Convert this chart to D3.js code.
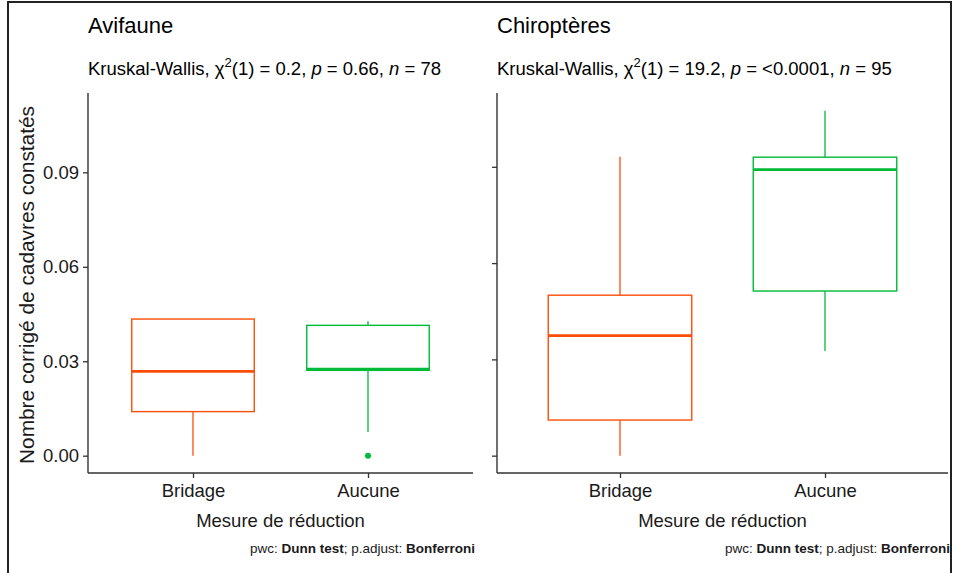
<!DOCTYPE html>
<html>
<head>
<meta charset="utf-8">
<script src="https://cdn.jsdelivr.net/npm/d3@7"></script>
<style>
body { margin: 0; background: #fff; }
text { font-family: "Liberation Sans", Arial, sans-serif; }
</style>
</head>
<body>
<div id="chart"></div>
<script>
var width = 955,
    height = 573,
    orange = "#FC4E07",
    green = "#00BA38";

// categories
var groups = ["Bridage", "Aucune"];
var tickValues = [0, 0.03, 0.06, 0.09];

// Avifaune box stats
var aviLow = [0.000, 0.0075];
var aviQ1 = [0.0140, 0.0271];
var aviMedian = [0.0268, 0.0275];
var aviQ3 = [0.0434, 0.0414];
var aviHigh = [0.0434, 0.0427];
var aviOutliers = [[], [0.000]];

// Chiropteres box stats
var chiLow = [0.000, 0.0326];
var chiQ1 = [0.0111, 0.0513];
var chiMedian = [0.0374, 0.0891];
var chiQ3 = [0.0500, 0.0930];
var chiHigh = [0.0931, 0.1075];
var chiOutliers = [[], []];

var svg = d3.select("#chart")
    .append("svg")
    .attr("width", width)
    .attr("height", height);

svg.append("rect")
    .attr("width", width)
    .attr("height", height)
    .attr("fill", "#fff");

// outer frame
svg.append("rect")
    .attr("x", 8)
    .attr("y", 2)
    .attr("width", 943)
    .attr("height", 620)
    .attr("fill", "none")
    .attr("stroke", "#222")
    .attr("stroke-width", 2);

function makeTable(low, q1, med, q3, high, outl) {
    return groups.map(function (g, i) {
        return { group: g, low: low[i], q1: q1[i], med: med[i], q3: q3[i], high: high[i], out: outl[i] };
    });
}

var panels = [
    { title: "Avifaune", chi: "0.2", p: "0.66", n: "78",
      left: 88, right: 473, domain: [-0.0055, 0.1152], labels: true,
      data: makeTable(aviLow, aviQ1, aviMedian, aviQ3, aviHigh, aviOutliers) },
    { title: "Chiroptères", chi: "19.2", p: "<0.0001", n: "95",
      left: 497, right: 948, domain: [-0.0054, 0.1130], labels: false,
      data: makeTable(chiLow, chiQ1, chiMedian, chiQ3, chiHigh, chiOutliers) }
];

var plotTop = 93, plotBottom = 473;

panels.forEach(function (p) {
    var x = d3.scalePoint().domain(groups).range([p.left, p.right]).padding(0.6);
    var y = d3.scaleLinear().domain(p.domain).range([plotBottom, plotTop]);
    var color = d3.scaleOrdinal().domain(groups).range([orange, green]);
    var bw = x.step() * 0.7;

    var g = svg.append("g");

    // title + subtitle
    g.append("text")
        .attr("x", p.left)
        .attr("y", 33)
        .style("font-size", "22px")
        .attr("fill", "#000")
        .text(p.title);

    var sub = g.append("text")
        .attr("x", p.left)
        .attr("y", 75)
        .style("font-size", "18.5px")
        .attr("fill", "#000");
    sub.append("tspan").text("Kruskal-Wallis, ");
    sub.append("tspan").text("χ");
    sub.append("tspan").attr("dy", -8).style("font-size", "13px").text("2");
    sub.append("tspan").attr("dy", 8).text("(1) = " + p.chi + ", ");
    sub.append("tspan").style("font-style", "italic").text("p");
    sub.append("tspan").text(" = " + p.p + ", ");
    sub.append("tspan").style("font-style", "italic").text("n");
    sub.append("tspan").text(" = " + p.n);

    // whiskers
    g.selectAll("line.whisk-hi")
        .data(p.data)
        .enter()
        .append("line")
        .attr("x1", function (d) { return x(d.group); })
        .attr("x2", function (d) { return x(d.group); })
        .attr("y1", function (d) { return y(d.q3); })
        .attr("y2", function (d) { return y(d.high); })
        .attr("stroke", function (d) { return color(d.group); })
        .attr("stroke-width", 1.3);

    g.selectAll("line.whisk-lo")
        .data(p.data)
        .enter()
        .append("line")
        .attr("x1", function (d) { return x(d.group); })
        .attr("x2", function (d) { return x(d.group); })
        .attr("y1", function (d) { return y(d.q1); })
        .attr("y2", function (d) { return y(d.low); })
        .attr("stroke", function (d) { return color(d.group); })
        .attr("stroke-width", 1.3);

    // boxes
    g.selectAll("rect.box")
        .data(p.data)
        .enter()
        .append("rect")
        .attr("x", function (d) { return x(d.group) - bw / 2; })
        .attr("y", function (d) { return y(d.q3); })
        .attr("width", bw)
        .attr("height", function (d) { return y(d.q1) - y(d.q3); })
        .attr("fill", "#fff")
        .attr("stroke", function (d) { return color(d.group); })
        .attr("stroke-width", 1.4);

    // medians
    g.selectAll("line.median")
        .data(p.data)
        .enter()
        .append("line")
        .attr("x1", function (d) { return x(d.group) - bw / 2; })
        .attr("x2", function (d) { return x(d.group) + bw / 2; })
        .attr("y1", function (d) { return y(d.med); })
        .attr("y2", function (d) { return y(d.med); })
        .attr("stroke", function (d) { return color(d.group); })
        .attr("stroke-width", 2.8);

    // outliers
    p.data.forEach(function (d) {
        g.selectAll(null)
            .data(d.out)
            .enter()
            .append("circle")
            .attr("cx", x(d.group))
            .attr("cy", function (v) { return y(v); })
            .attr("r", 3)
            .attr("fill", color(d.group));
    });

    // axes
    var yAxis = d3.axisLeft(y)
        .tickValues(tickValues)
        .tickSize(5)
        .tickSizeOuter(0)
        .tickPadding(4)
        .tickFormat(p.labels ? d3.format(".2f") : function () { return ""; });

    var ya = g.append("g")
        .attr("transform", "translate(" + p.left + ",0)")
        .call(yAxis);

    var xa = g.append("g")
        .attr("transform", "translate(0," + plotBottom + ")")
        .call(d3.axisBottom(x).tickSize(5).tickSizeOuter(0).tickPadding(6));

    [ya, xa].forEach(function (a) {
        a.select(".domain").remove();
        a.selectAll(".tick line").attr("stroke", "#333").attr("stroke-width", 1.3);
        a.selectAll(".tick text")
            .attr("fill", "#1a1a1a")
            .style("font-size", "18.5px")
            .style("font-family", "'Liberation Sans', Arial, sans-serif");
    });
    g.append("line")
        .attr("x1", p.left).attr("x2", p.left)
        .attr("y1", plotTop).attr("y2", plotBottom)
        .attr("stroke", "#333").attr("stroke-width", 1.4);
    g.append("line")
        .attr("x1", p.left).attr("x2", p.right)
        .attr("y1", plotBottom).attr("y2", plotBottom)
        .attr("stroke", "#333").attr("stroke-width", 1.4);

    // x title
    g.append("text")
        .attr("x", (p.left + p.right) / 2)
        .attr("y", 527)
        .attr("text-anchor", "middle")
        .style("font-size", "18.5px")
        .attr("fill", "#1a1a1a")
        .text("Mesure de réduction");

    // caption
    var cap = g.append("text")
        .attr("x", p.right + 2)
        .attr("y", 553)
        .attr("text-anchor", "end")
        .style("font-size", "13.5px")
        .attr("fill", "#1a1a1a");
    cap.append("tspan").text("pwc: ");
    cap.append("tspan").style("font-weight", "bold").text("Dunn test");
    cap.append("tspan").text("; p.adjust: ");
    cap.append("tspan").style("font-weight", "bold").text("Bonferroni");

    if (p.labels) {
        g.append("text")
            .attr("transform", "translate(34,285)rotate(-90)")
            .attr("text-anchor", "middle")
            .style("font-size", "19.5px")
            .attr("textLength", 358)
            .attr("lengthAdjust", "spacingAndGlyphs")
            .attr("fill", "#1a1a1a")
            .text("Nombre corrigé de cadavres constatés");
    }
});
</script>
</body>
</html>
